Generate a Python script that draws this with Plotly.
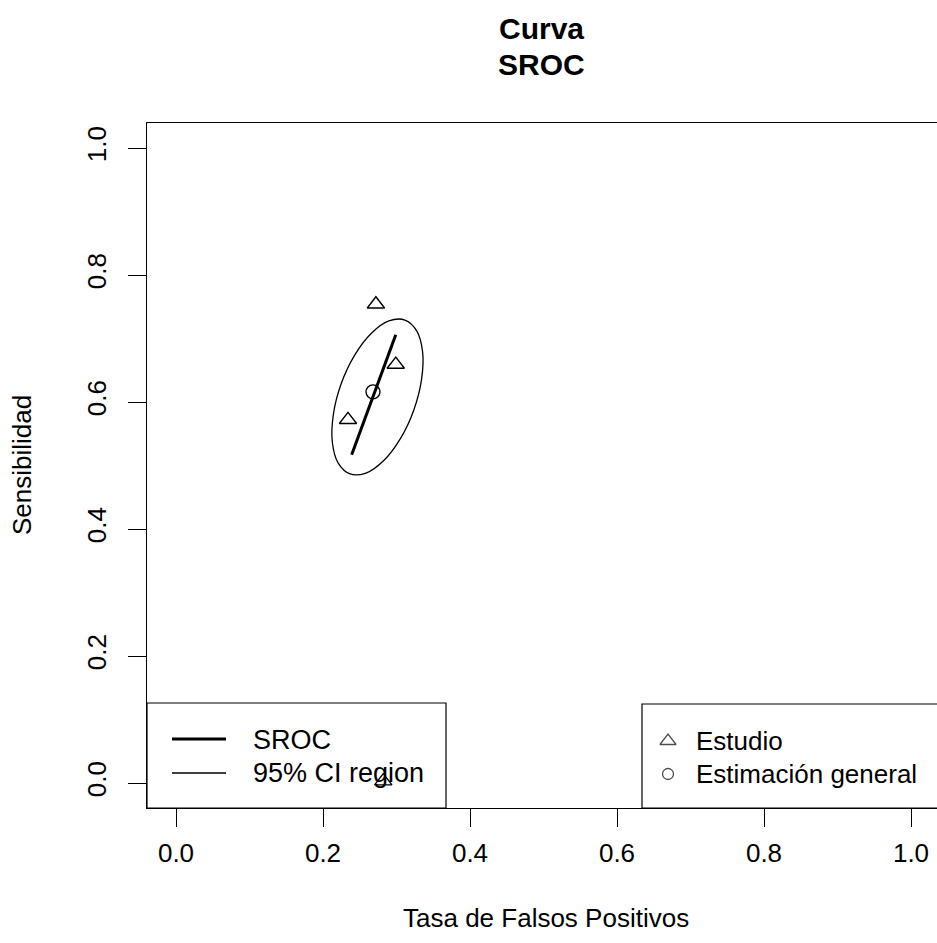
import plotly.graph_objects as go

# ---- data ----
study_fpr = [0.272, 0.299, 0.234, 0.282]
study_sens = [0.754, 0.659, 0.572, 0.003]

summary_fpr = [0.268]
summary_sens = [0.616]

sroc_fpr = [0.239, 0.299]
sroc_sens = [0.517, 0.706]

ci_fpr = [0.3114, 0.2896, 0.2655, 0.2427, 0.2246, 0.2141, 0.2127, 0.2207,
          0.2368, 0.2586, 0.2827, 0.3055, 0.3236, 0.3341, 0.3355, 0.3275, 0.3114]
ci_sens = [0.7291, 0.7277, 0.7080, 0.6731, 0.6283, 0.5803, 0.5366, 0.5037,
           0.4867, 0.4881, 0.5078, 0.5427, 0.5875, 0.6355, 0.6792, 0.7121, 0.7291]

tick_vals = [0.0, 0.2, 0.4, 0.6, 0.8, 1.0]
tick_text = ["0.0", "0.2", "0.4", "0.6", "0.8", "1.0"]

FONT = "Liberation Sans, Arial, Helvetica, sans-serif"

W, H = 937, 943
ML, MR, MT, MB = 147, 0, 123, 135
PW, PH = W - ML - MR, H - MT - MB

def px(x):
    return (x - ML) / PW

def py(y):
    return (H - MB - y) / PH

fig = go.Figure()

fig.add_trace(go.Scatter(x=ci_fpr, y=ci_sens, mode="lines", line=dict(color="black", width=1.3, shape="spline", smoothing=1.0),
                         name="95% CI region", showlegend=False, hoverinfo="skip"))
fig.add_trace(go.Scatter(x=sroc_fpr, y=sroc_sens, mode="lines", line=dict(color="black", width=3),
                         name="SROC", showlegend=False))
fig.add_trace(go.Scatter(x=study_fpr, y=study_sens, mode="markers",
                         marker=dict(symbol="triangle-up-open", size=15, color="black", line=dict(width=1.4)),
                         name="Estudio", showlegend=False))
fig.add_trace(go.Scatter(x=summary_fpr, y=summary_sens, mode="markers",
                         marker=dict(symbol="circle-open", size=14, color="black", line=dict(width=1.4)),
                         name="Estimación general", showlegend=False))

shapes = []
# left legend box
shapes.append(dict(type="rect", xref="paper", yref="paper", x0=px(147), x1=px(446), y0=py(808), y1=py(703),
                   line=dict(color="black", width=1.2), fillcolor="white", layer="below"))
shapes.append(dict(type="line", xref="paper", yref="paper", x0=px(172), x1=px(226), y0=py(739), y1=py(739),
                   line=dict(color="black", width=3), layer="above"))
shapes.append(dict(type="line", xref="paper", yref="paper", x0=px(172), x1=px(226), y0=py(773), y1=py(773),
                   line=dict(color="black", width=1.3), layer="above"))
# right legend box
shapes.append(dict(type="rect", xref="paper", yref="paper", x0=px(642), x1=px(945), y0=py(808), y1=py(704),
                   line=dict(color="black", width=1.2), fillcolor="white", layer="below"))

fig.update_layout(shapes=shapes)

annotations = []
def ann(text, x, y, size, xanchor="left", angle=0):
    annotations.append(dict(text=text, xref="paper", yref="paper", x=px(x), y=py(y), showarrow=False,
                            xanchor=xanchor, yanchor="middle", textangle=angle,
                            font=dict(family=FONT, size=size, color="black")))

ann("SROC", 251, 740, 27)
ann("95% CI region", 251, 773, 27)
ann("Estudio", 694, 741, 26)
ann("Estimación general", 694, 774, 26)
ann("Tasa de Falsos Positivos", 546, 918, 26, xanchor="center")
ann("Sensibilidad", 22, 465, 26, xanchor="center", angle=-90)
ann("<b>Curva</b>", 541, 28.5, 30, xanchor="center")
ann("<b>SROC</b>", 541, 64.5, 30, xanchor="center")
fig.update_layout(annotations=annotations)

# legend symbols, drawn on an overlay axis spanning the plot area
fig.add_trace(go.Scatter(x=[px(668), px(668)], y=[py(741), py(774)], xaxis="x2", yaxis="y2", mode="markers",
                         marker=dict(symbol=["triangle-up-open", "circle-open"], size=[14, 11], color="black",
                                     line=dict(width=1.3)),
                         showlegend=False, hoverinfo="skip"))

fig.update_layout(
    width=W, height=H,
    margin=dict(l=ML, r=MR, t=MT, b=MB, pad=0),
    paper_bgcolor="white", plot_bgcolor="white",
    showlegend=False,
    font=dict(family=FONT, color="black"),
    xaxis=dict(range=[-29 / 735, (PW - 29) / 735], tickvals=tick_vals, ticktext=tick_text,
               showgrid=False, zeroline=False, showline=True, mirror=True, linecolor="black", linewidth=1.2,
               ticks="outside", ticklen=18, tickwidth=1.2, tickcolor="black", ticklabelstandoff=4,
               tickfont=dict(family=FONT, size=26, color="black"), fixedrange=True),
    yaxis=dict(range=[(783 - 808) / 635, (783 - 123) / 635], tickvals=tick_vals, ticktext=tick_text,
               showgrid=False, zeroline=False, showline=True, mirror=False, linecolor="black", linewidth=1.2,
               ticks="outside", ticklen=18, tickwidth=1.2, tickcolor="black", tickangle=-90, ticklabelstandoff=12,
               tickfont=dict(family=FONT, size=26, color="black"), fixedrange=True),
    xaxis2=dict(range=[0, 1], overlaying="x", visible=False, fixedrange=True),
    yaxis2=dict(range=[0, 1], overlaying="y", visible=False, fixedrange=True),
)

fig.write_html("out.html")
